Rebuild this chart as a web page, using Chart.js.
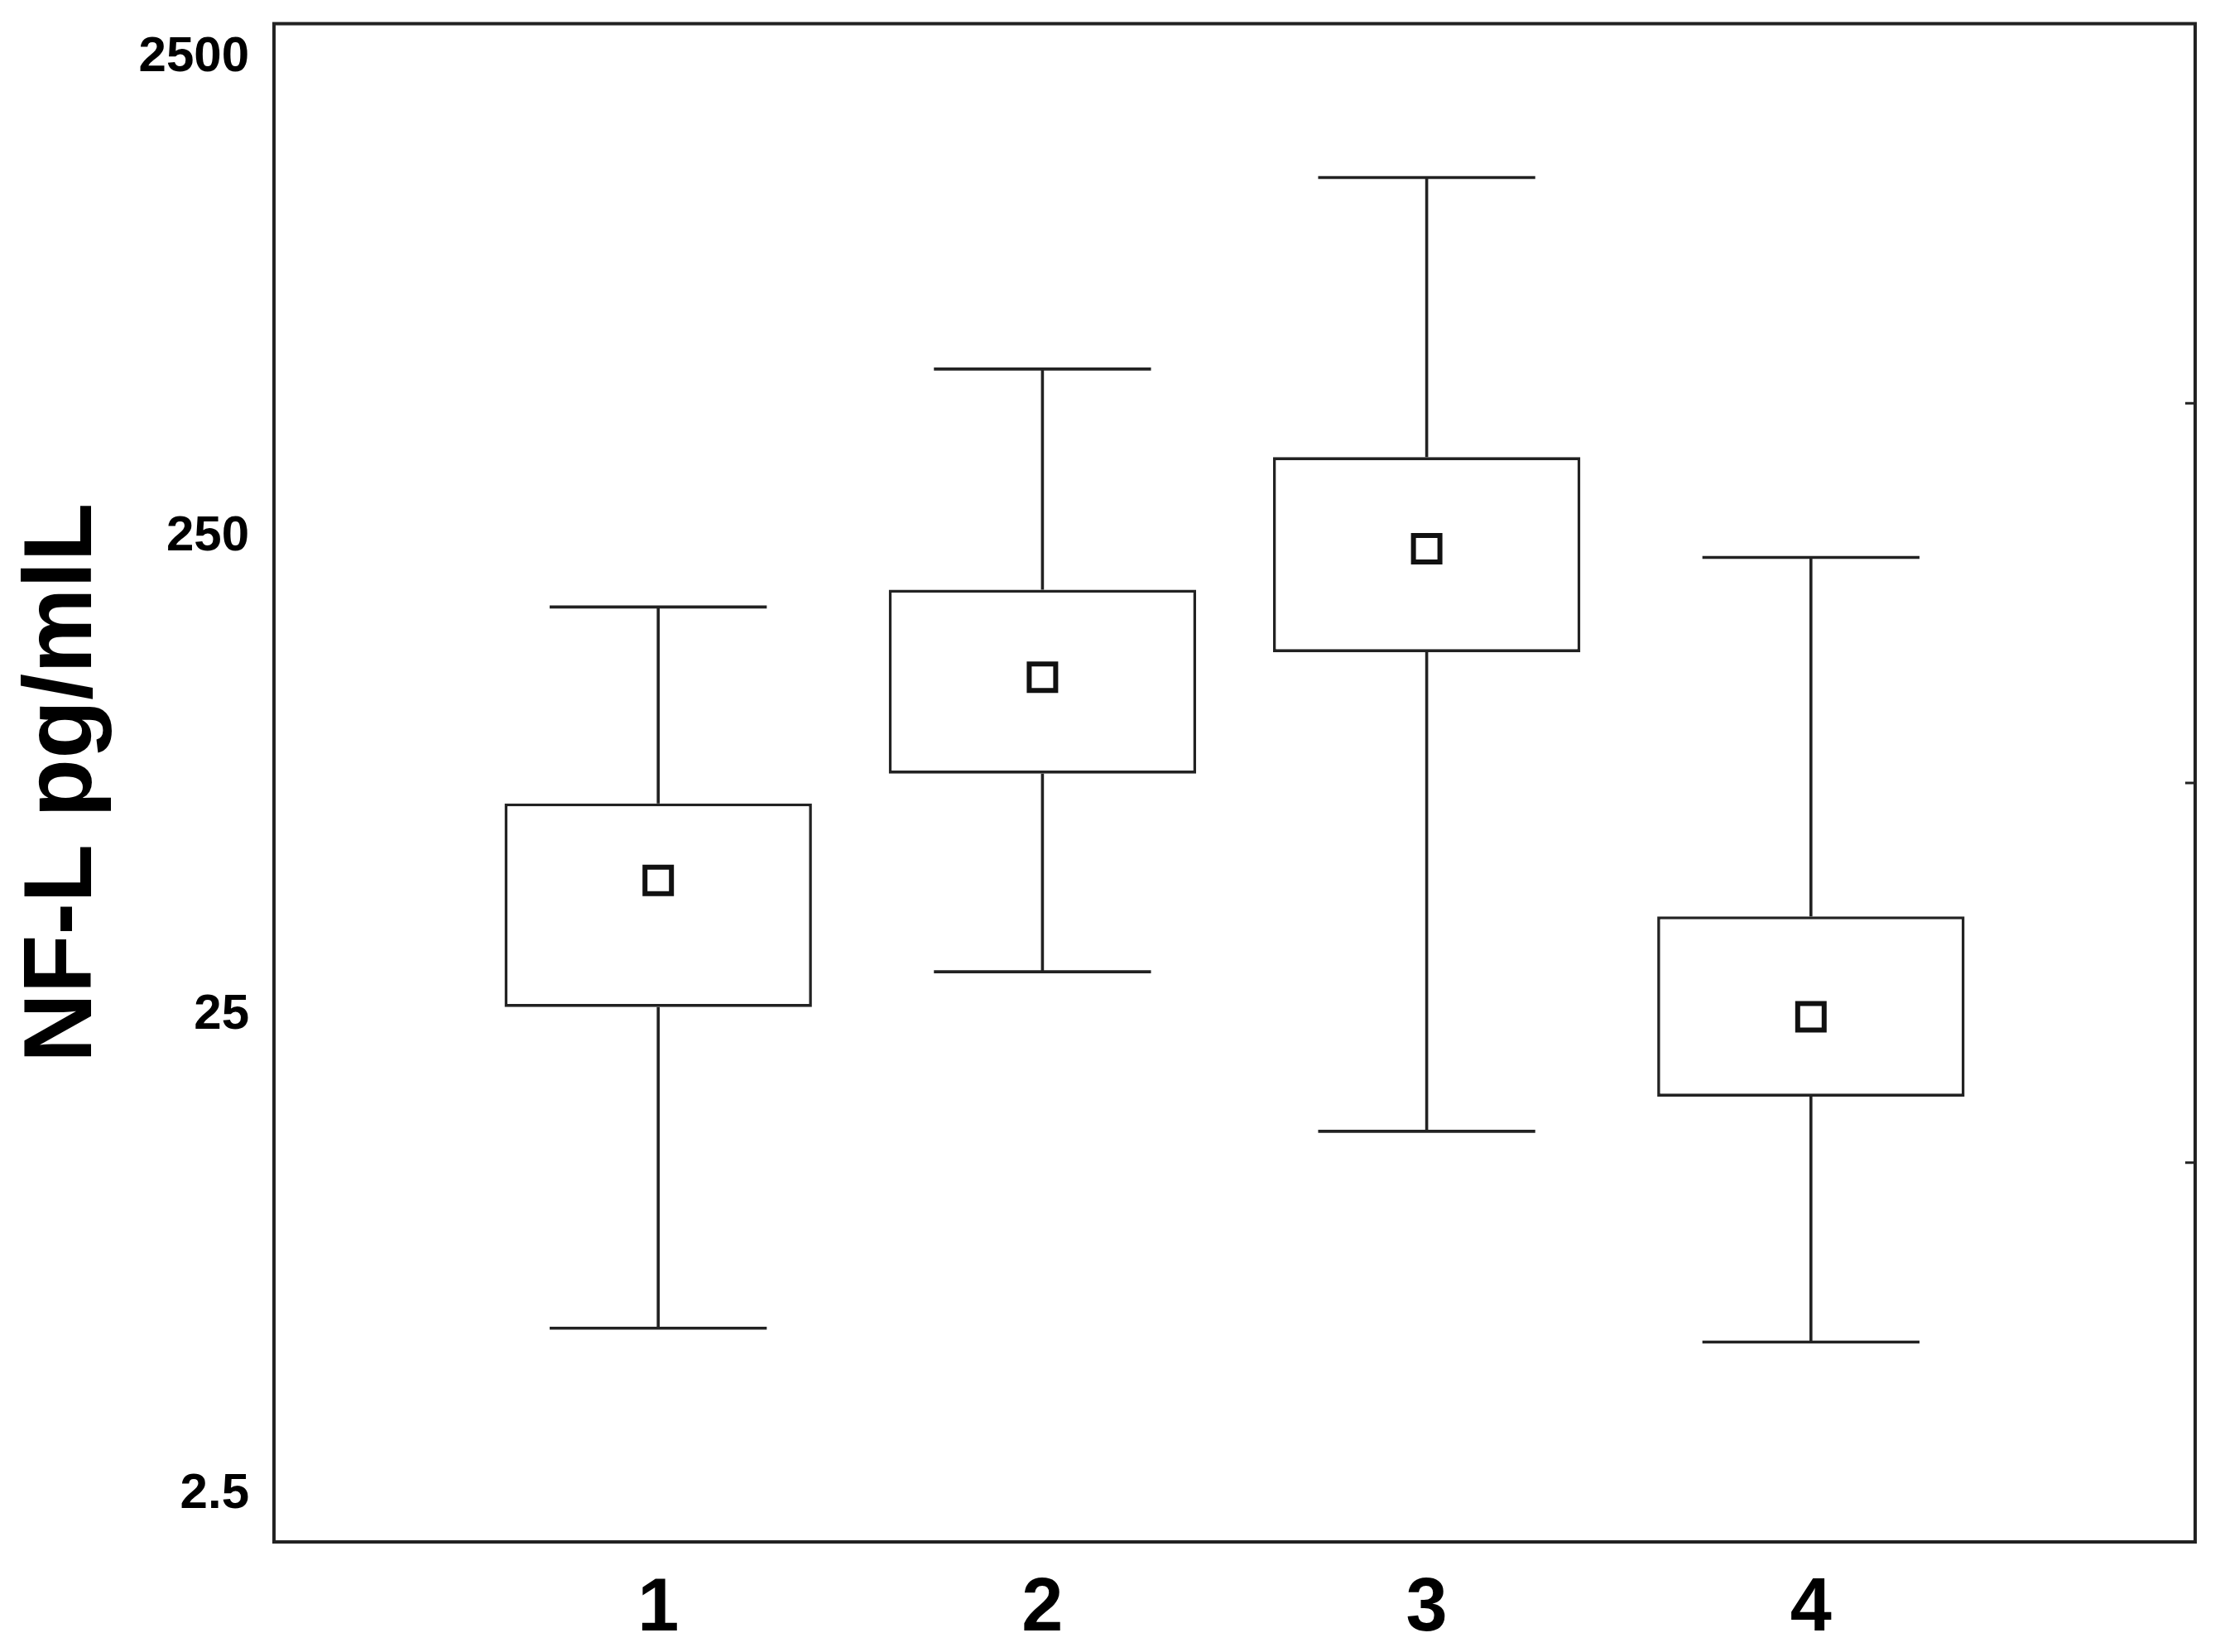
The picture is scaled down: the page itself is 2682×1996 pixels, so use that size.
<!DOCTYPE html>
<html>
<head>
<meta charset="utf-8">
<title>NF-L pg/mlL</title>
<script src="https://cdn.jsdelivr.net/npm/chart.js@4.4.1/dist/chart.umd.min.js"></script>
<style>
    html, body { margin: 0; padding: 0; background: #fff; overflow: hidden; }
    canvas { display: block; }
</style>
</head>
<body>
<canvas id="nflChart" width="2682" height="1996"></canvas>
<script>
// groups along the x axis
const groups = [1, 2, 3, 4];
const xTickValues = [1, 2, 3, 4];

// log axis labels and the small inner ticks on the right border
const yTickValues = [2.5, 25, 250, 2500];
const rightTickValues = [474, 76.4, 12.3];

// box plot values per group (pg/mL)
const whiskerHigh = [178, 559, 1404, 226];
const boxHigh = [69.2, 193.5, 366, 40.2];
const means = [47.8, 127, 235.6, 24.8];
const boxLow = [26.0, 79.9, 143.3, 16.9];
const whiskerLow = [5.55, 30.8, 14.3, 5.19];

// axis range
const xMin = 0, xMax = 5;
const yMin = 1.985, yMax = 2943;

const FONT = "'Liberation Sans', Arial, sans-serif";
const INK = '#222';
const CAP_WIDTH = 0.565; // largeur des moustaches en unités x

// moustaches + cadre + petits traits à droite
const boxWhiskerPlugin = {
    id: 'boxWhisker',
    beforeDatasetsDraw(chart) {
        const xs = chart.scales.x;
        const ys = chart.scales.y;
        const ctx = chart.ctx;
        const half = (xs.getPixelForValue(CAP_WIDTH) - xs.getPixelForValue(0)) / 2;

        ctx.save();
        ctx.strokeStyle = INK;
        ctx.lineWidth = 3.6;
        groups.forEach((g, i) => {
            const cx = xs.getPixelForValue(g);
            const yHi = ys.getPixelForValue(whiskerHigh[i]);
            const yQ3 = ys.getPixelForValue(boxHigh[i]);
            const yQ1 = ys.getPixelForValue(boxLow[i]);
            const yLo = ys.getPixelForValue(whiskerLow[i]);

            ctx.beginPath();
            ctx.moveTo(cx, yHi);
            ctx.lineTo(cx, yQ3);
            ctx.moveTo(cx, yQ1);
            ctx.lineTo(cx, yLo);
            ctx.moveTo(cx - half, yHi);
            ctx.lineTo(cx + half, yHi);
            ctx.moveTo(cx - half, yLo);
            ctx.lineTo(cx + half, yLo);
            ctx.stroke();
        });
        ctx.restore();
    },
    afterDraw(chart) {
        const area = chart.chartArea;
        const ys = chart.scales.y;
        const ctx = chart.ctx;

        ctx.save();
        ctx.strokeStyle = INK;
        ctx.lineWidth = 4;
        ctx.strokeRect(area.left, area.top, area.right - area.left, area.bottom - area.top);

        ctx.lineWidth = 3;
        ctx.beginPath();
        rightTickValues.forEach(v => {
            const py = ys.getPixelForValue(v);
            ctx.moveTo(area.right, py);
            ctx.lineTo(area.right - 12, py);
        });
        ctx.stroke();
        ctx.restore();
    }
};

function initChart() {
    const ctx = document.getElementById('nflChart');

    new Chart(ctx, {
        type: 'bar',
        data: {
            datasets: [
                {
                    type: 'scatter',
                    label: 'mean',
                    data: groups.map((g, i) => ({ x: g, y: means[i] })),
                    pointStyle: 'rect',
                    pointRadius: 22.6,
                    pointBorderWidth: 6,
                    pointBackgroundColor: '#fff',
                    pointBorderColor: '#111',
                    order: 0
                },
                {
                    type: 'bar',
                    label: 'box',
                    data: groups.map((g, i) => ({ x: g, y: [boxLow[i], boxHigh[i]] })),
                    backgroundColor: '#fff',
                    borderColor: INK,
                    borderWidth: 3.6,
                    borderSkipped: false,
                    categoryPercentage: 0.8,
                    barPercentage: 1,
                    order: 1
                }
            ]
        },
        options: {
            responsive: false,
            animation: false,
            events: [],
            layout: {
                padding: { left: 0, top: 27, right: 30, bottom: 0 }
            },
            plugins: {
                legend: { display: false },
                tooltip: { enabled: false }
            },
            scales: {
                x: {
                    type: 'linear',
                    min: xMin,
                    max: xMax,
                    offset: false,
                    grid: { display: false, drawTicks: false, offset: false },
                    border: { display: false },
                    afterBuildTicks: scale => {
                        scale.ticks = xTickValues.map(v => ({ value: v }));
                    },
                    afterFit: scale => {
                        scale.height = 133;
                        scale.paddingLeft = 0;
                        scale.paddingRight = 0;
                    },
                    ticks: {
                        padding: 28,
                        color: '#000',
                        font: { family: FONT, size: 90, weight: 'bold' },
                        callback: value => String(value)
                    }
                },
                y: {
                    type: 'logarithmic',
                    min: yMin,
                    max: yMax,
                    grid: { display: false, drawTicks: false },
                    border: { display: false },
                    afterBuildTicks: scale => {
                        scale.ticks = yTickValues.map(v => ({ value: v }));
                    },
                    afterFit: scale => {
                        scale.width = 331;
                        scale.paddingTop = 0;
                        scale.paddingBottom = 0;
                    },
                    ticks: {
                        padding: 30,
                        color: '#000',
                        font: { family: FONT, size: 60, weight: 'bold' },
                        callback: value => String(value)
                    },
                    title: {
                        display: true,
                        text: 'NF-L pg/mlL',
                        color: '#000',
                        padding: { top: 8, bottom: 0 },
                        font: { family: FONT, size: 116, weight: 'bold' }
                    }
                }
            }
        },
        plugins: [boxWhiskerPlugin]
    });
}

initChart();
</script>
</body>
</html>
